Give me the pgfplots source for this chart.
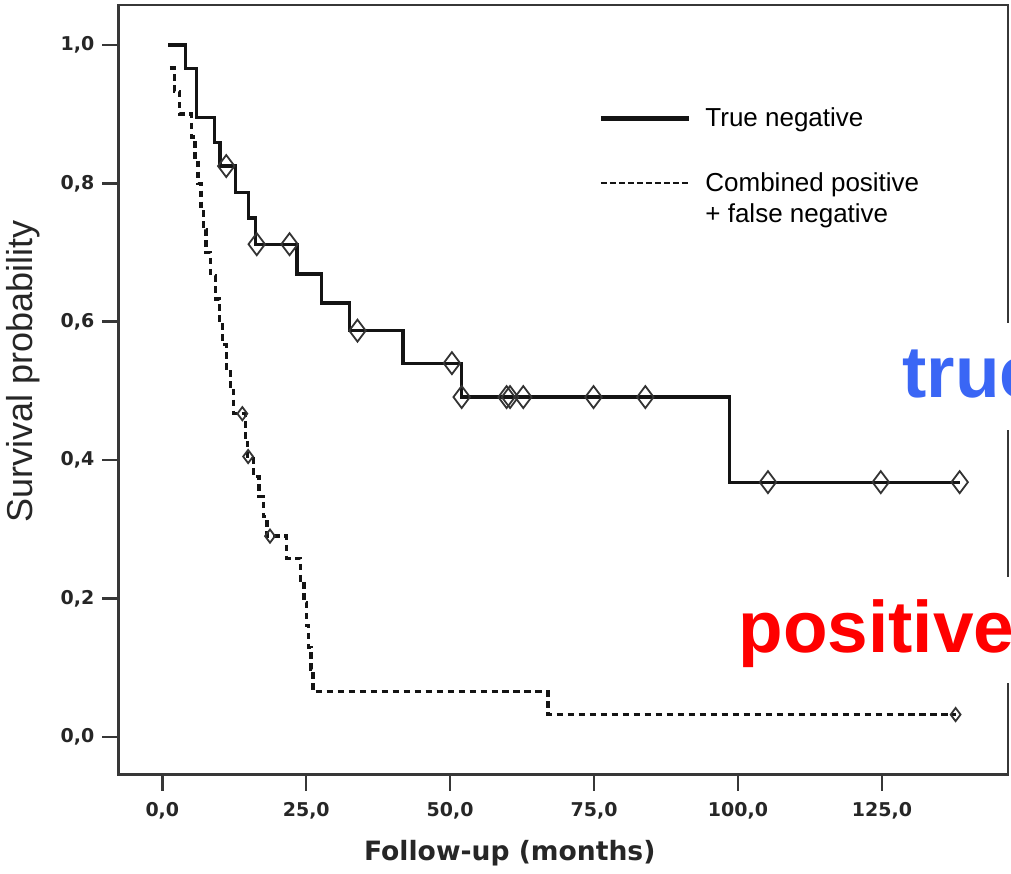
\documentclass[border=0pt]{standalone}
\usepackage{fontspec}
\setmainfont{Liberation Sans}
\newfontfamily\dejavu{DejaVu Sans}
\usepackage{pgfplots}
\pgfplotsset{compat=1.18}
\definecolor{tblue}{RGB}{58,102,245}
\definecolor{axgray}{RGB}{55,55,55}
\definecolor{curve}{RGB}{20,20,20}
\begin{document}
\begin{tikzpicture}
\begin{axis}[
  name=ax,
  scale only axis, width=445pt, height=385pt,
  xmin=-7.64, xmax=146.9, ymin=-0.0549, ymax=1.0578,
  axis line style={axgray, line width=1.2pt},
  xtick={0,25,50,75,100,125}, ytick={0,0.2,0.4,0.6,0.8,1.0},
  tick align=outside, tick pos=left, major tick length=8pt,
  tick style={axgray, line width=1.2pt},
  xticklabel style={/pgf/number format/.cd, fixed, fixed zerofill, precision=1, use comma, assume math mode=true, /tikz/.cd, yshift=-2.5pt},
  yticklabel style={/pgf/number format/.cd, fixed, fixed zerofill, precision=1, use comma, assume math mode=true, /tikz/.cd, xshift=-0.5pt},
  ticklabel style={font=\dejavu\bfseries\fontsize{9.5}{11}\selectfont, text=black!85},
  xlabel={Follow-up (months)},
  xlabel style={font=\dejavu\bfseries\fontsize{13.3}{16}\selectfont, at={(axis description cs:0.44,-0.1026)}, anchor=center, text=black!85},
  ylabel={Survival probability},
  ylabel style={font=\fontsize{18}{20}\selectfont, at={(axis description cs:-0.1067,0.524)}, anchor=center, rotate=0, text=black!85},
  legend style={at={(axis description cs:0.539,0.8725)}, anchor=north west, draw=none, fill=none,
     font=\fontsize{13}{15.5}\selectfont, inner sep=0pt, row sep=17.5pt,
     cells={anchor=west, align=left},
     /tikz/every odd column/.append style={column sep=5pt}},
  legend image code/.code={\draw[#1] (0pt,0pt) -- (44pt,0pt);},
]
\addlegendimage{curve, line width=2.6pt}
\addlegendentry{True negative}
\addlegendimage{curve, line width=1pt, dash pattern=on 3pt off 1.5pt, yshift=7.75pt}
\addlegendentry{Combined positive\\+ false negative}

% True negative
\addplot[const plot, curve, line width=1.6pt, forget plot] coordinates {
(1.0,1.000) (4.0,0.966) (5.9,0.895) (9.0,0.859) (10.0,0.825) (12.7,0.787)
(15.0,0.750) (16.2,0.712) (23.4,0.669) (27.7,0.627) (32.5,0.587) (41.8,0.540)
(51.9,0.491) (98.5,0.368) (138.5,0.368)
};
\addplot[only marks, mark=diamond, mark size=5.5pt, mark options={draw=black!80, line width=0.9pt, fill=none}, forget plot] coordinates {
(11.1,0.825) (16.4,0.712) (22.1,0.712) (33.9,0.587) (50.3,0.540) (52.0,0.491)
(59.8,0.491) (60.4,0.491) (62.7,0.491) (74.9,0.491) (83.9,0.491)
(105.2,0.368) (124.8,0.368) (138.5,0.368)
};

% Combined positive + false negative
\addplot[const plot, curve, line width=1.7pt, dash pattern=on 3.2pt off 2.3pt, forget plot] coordinates {
(1.3,0.967) (2.1,0.933) (3.0,0.900) (5.1,0.867) (5.7,0.833) (6.2,0.800)
(6.7,0.767) (7.1,0.733) (7.6,0.700) (8.4,0.667) (9.2,0.633) (9.9,0.600)
(10.4,0.567) (11.1,0.533) (11.8,0.500) (12.4,0.467) (14.4,0.433) (14.8,0.405)
(15.8,0.376) (16.8,0.347) (17.6,0.318) (18.2,0.290) (21.6,0.258) (24.0,0.226)
(24.6,0.194) (25.0,0.161) (25.4,0.129) (25.8,0.097) (26.2,0.065) (67.0,0.032)
(137.8,0.032)
};
\addplot[only marks, mark=diamond, mark size=3.3pt, mark options={draw=black!80, line width=0.9pt, fill=none, solid}, forget plot] coordinates {
(13.9,0.467) (14.9,0.405) (18.7,0.290) (137.8,0.032)
};
\end{axis}
\begin{scope}[shift={(ax.south west)}, x=0.5pt, y=0.5pt]
  \path (-118,-99) rectangle (893,775);
  \fill[white, overlay] (762,345) rectangle (960,452);
  \node[overlay, anchor=base west, inner sep=0pt, text=tblue, font=\bfseries\fontsize{36.5}{40}\selectfont] at (784,377) {true negative};
  \fill[white, overlay] (602,92) rectangle (960,198);
  \node[overlay, anchor=base west, inner sep=0pt, text=red, font=\bfseries\fontsize{36.5}{40}\selectfont] at (620,122) {positive};
\end{scope}
\end{tikzpicture}
\end{document}
